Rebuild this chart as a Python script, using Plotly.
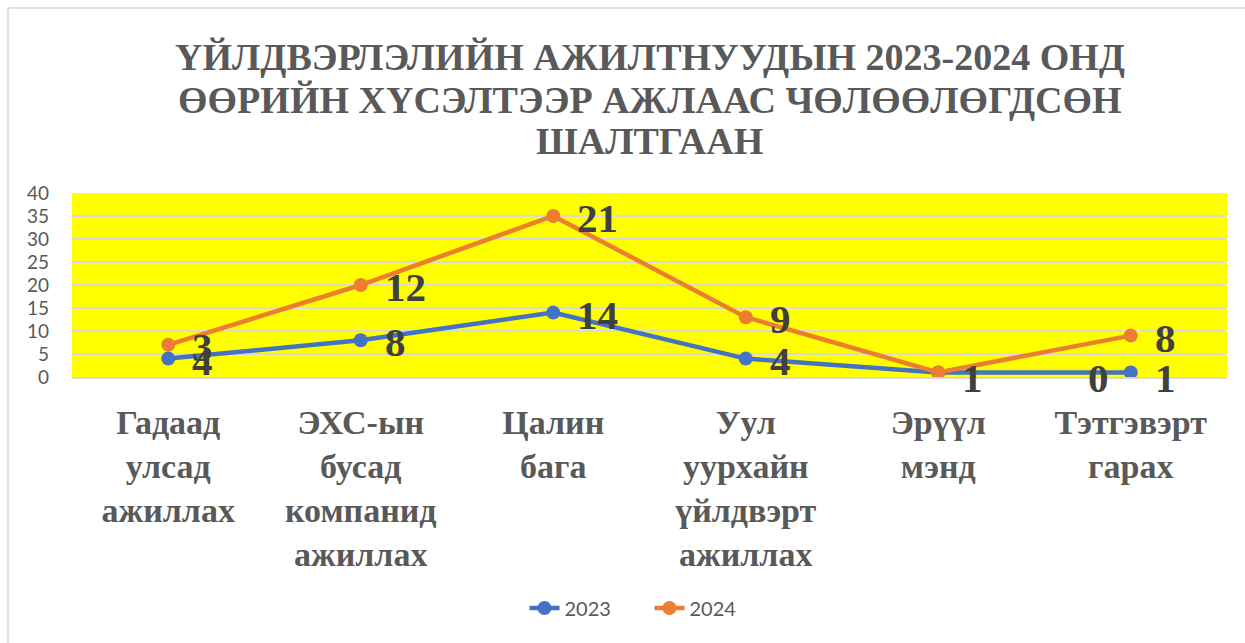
import plotly.graph_objects as go
import numpy as np

categories = ["Гадаад<br>улсад<br>ажиллах", "ЭХС-ын<br>бусад<br>компанид<br>ажиллах", "Цалин<br>бага",
              "Уул<br>уурхайн<br>үйлдвэрт<br>ажиллах", "Эрүүл<br>мэнд", "Тэтгэвэрт<br>гарах"]
values_2023 = [4, 8, 14, 4, 1, 1]
values_2024 = [3, 12, 21, 9, 0, 8]
series_names = ["2023", "2024"]
title_lines = ["ҮЙЛДВЭРЛЭЛИЙН АЖИЛТНУУДЫН 2023-2024 ОНД",
               "ӨӨРИЙН ХҮСЭЛТЭЭР АЖЛААС ЧӨЛӨӨЛӨГДСӨН",
               "ШАЛТГААН"]

colors = ["#4472C4", "#ED7D31"]
W, H = 1245, 643
ML, MR, MT, MB = 72, 18, 193, 266
plot_h = H - MT - MB
plot_w = W - ML - MR

fig = go.Figure()
for name, vals, col in zip(series_names, [values_2023, values_2024], colors):
    fig.add_trace(go.Scatter(
        x=categories, y=vals, name=name, mode="lines+markers",
        stackgroup="one", fill="none",
        line=dict(color=col, width=4.5),
        marker=dict(color=col, size=14),
    ))

# data labels (at stacked positions)
cum = np.cumsum(np.array([values_2023, values_2024]), axis=0)
label_font = dict(family="Liberation Serif", size=41, color="#404040")
annotations = []
for s, vals in enumerate([values_2023, values_2024]):
    for i, v in enumerate(vals):
        xanchor, xshift, yshift = "left", 22, -2
        xcat = categories[i]
        if s == 1 and v == 0:
            # label moved next to the last point in the original
            xcat = categories[-1]
            xanchor, xshift = "right", -20
            yshift = -6
        if s == 0 and i >= 4:
            yshift = -6
        annotations.append(dict(
            x=xcat, y=float(cum[s, i]), xref="x", yref="y",
            text=f"<b>{v}</b>", showarrow=False,
            xanchor=xanchor, yanchor="middle", xshift=xshift, yshift=yshift,
            font=label_font,
        ))

# title lines
title_centers = [57, 100, 141]
for line, yc in zip(title_lines, title_centers):
    annotations.append(dict(
        x=0.5, y=(H - MB - yc) / plot_h, xref="paper", yref="paper",
        text=f"<b>{line}</b>", showarrow=False, xanchor="center", yanchor="middle",
        font=dict(family="Liberation Serif", size=38, color="#595959"),
    ))

fig.update_layout(
    width=W, height=H,
    margin=dict(l=ML, r=MR, t=MT, b=MB),
    paper_bgcolor="white",
    plot_bgcolor="#FFFF00",
    annotations=annotations,
    showlegend=True,
    legend=dict(orientation="h", x=0.5, xanchor="center",
                y=(H - MB - 608) / plot_h, yanchor="middle",
                font=dict(family="Lato", size=20, color="#595959"),
                entrywidth=80, entrywidthmode="pixels"),
    shapes=[dict(type="rect", xref="paper", yref="paper",
                 x0=(8 - ML) / plot_w, x1=(W + 10 - ML) / plot_w,
                 y0=(H - MB - (H + 10)) / plot_h, y1=(H - MB - 8) / plot_h,
                 line=dict(color="#d9d9d9", width=1.5), fillcolor="rgba(0,0,0,0)",
                 layer="below")],
)
fig.update_xaxes(
    range=[-0.5, 5.5],
    tickfont=dict(family="Liberation Serif", size=34, color="#595959"),
    tickprefix="<b>", ticksuffix="</b>",
    showgrid=False, showline=True, linecolor="#d9d9d9", linewidth=1.5,
    ticks="", ticklabelstandoff=14,
)
fig.update_yaxes(
    range=[0, 40], dtick=5, showgrid=True, gridcolor="#d9d9d9", gridwidth=1.5,
    tickfont=dict(family="Lato", size=19, color="#595959"),
    zeroline=False, ticks="", ticklabelstandoff=22,
)
fig.write_html("out.html")
